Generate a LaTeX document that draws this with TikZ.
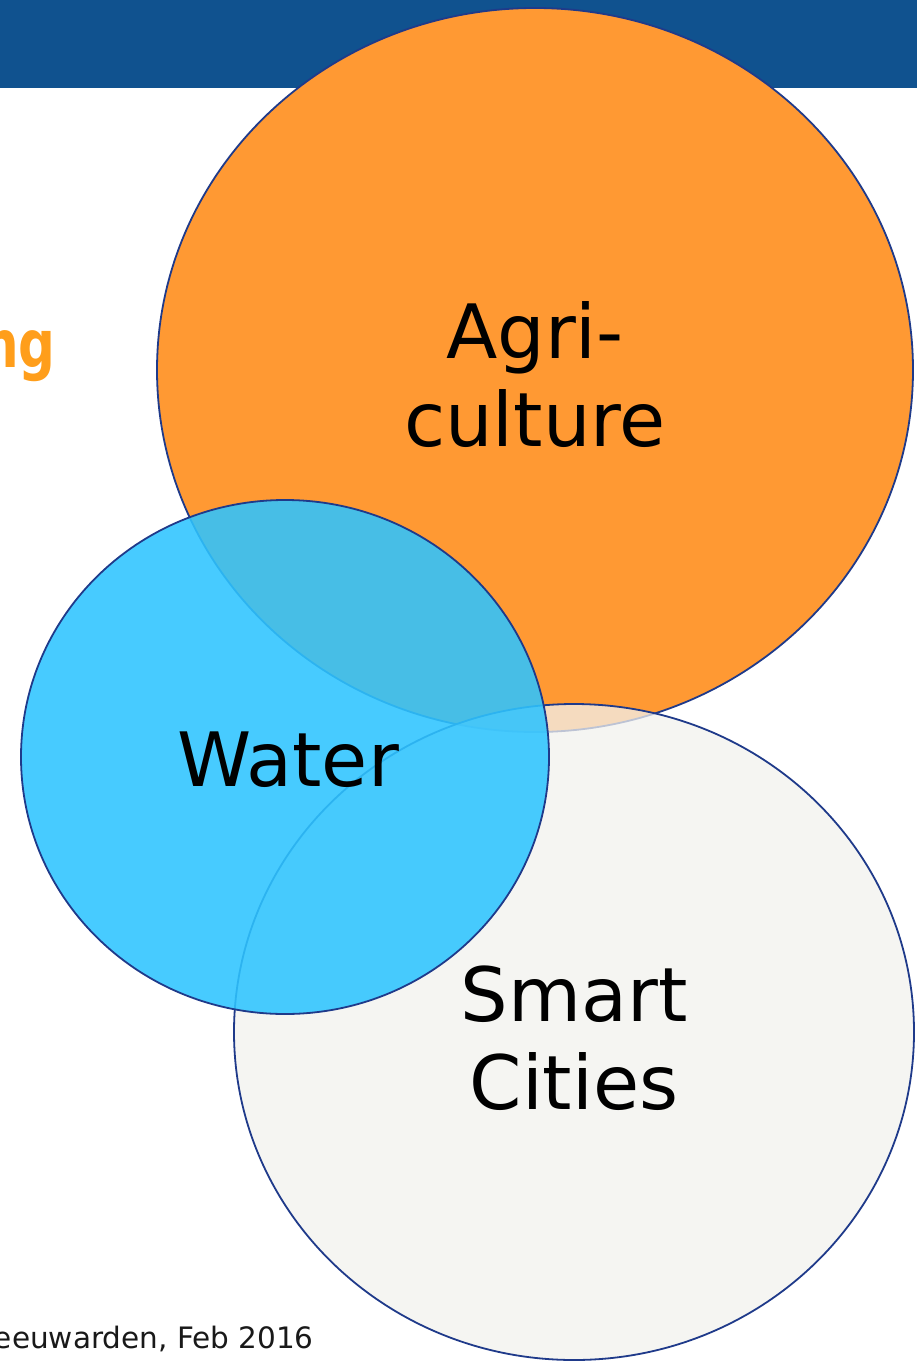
\documentclass[tikz,border=0pt]{standalone}
\usepackage{fontspec}
\setmainfont{DejaVu Sans}
\newfontfamily\boldsans[FakeStretch=0.78]{DejaVu Sans Bold}
\definecolor{banner}{HTML}{10528F}
\definecolor{orng}{HTML}{FF9933}
\definecolor{edge}{HTML}{1F3A8A}
\definecolor{smartfill}{HTML}{F2F2EE}
\definecolor{waterfill}{HTML}{2EC4FF}
\definecolor{titleorange}{HTML}{FF9E1B}
\tikzset{
  blob/.style={draw=edge, line width=1.8pt},
  bigtext/.style={font=\fontsize{75}{88}\selectfont, align=center, text=black, inner sep=0pt}
}
\begin{document}
\begin{tikzpicture}[x=1pt,y=-1pt]
\useasboundingbox (0,0) rectangle (917,1362);
\fill[banner] (0,0) rectangle (917,88);
\node[anchor=base east, inner sep=0pt, text=titleorange, font=\boldsans\fontsize{66}{78}\selectfont] (ng) at (56,367) {ng};
\node[anchor=base east, inner sep=0pt, text=black!90, font=\fontsize{29.5}{34}\selectfont] (foot) at (314,1348) {eeuwarden, Feb 2016};
\path[blob, fill=orng] (535,370) ellipse [x radius=378, y radius=362];
\path[blob, fill=smartfill, fill opacity=0.75] (574,1032) ellipse [x radius=340, y radius=328];
\path[blob, fill=waterfill, fill opacity=0.88] (285,757) ellipse [x radius=264, y radius=257];
\node[bigtext] (agri) at (535,375) {Agri-\\culture};
\node[bigtext] (water) at (288,760) {Water};
\node[bigtext] (smart) at (574,1038) {Smart\\Cities};
\end{tikzpicture}
\end{document}
